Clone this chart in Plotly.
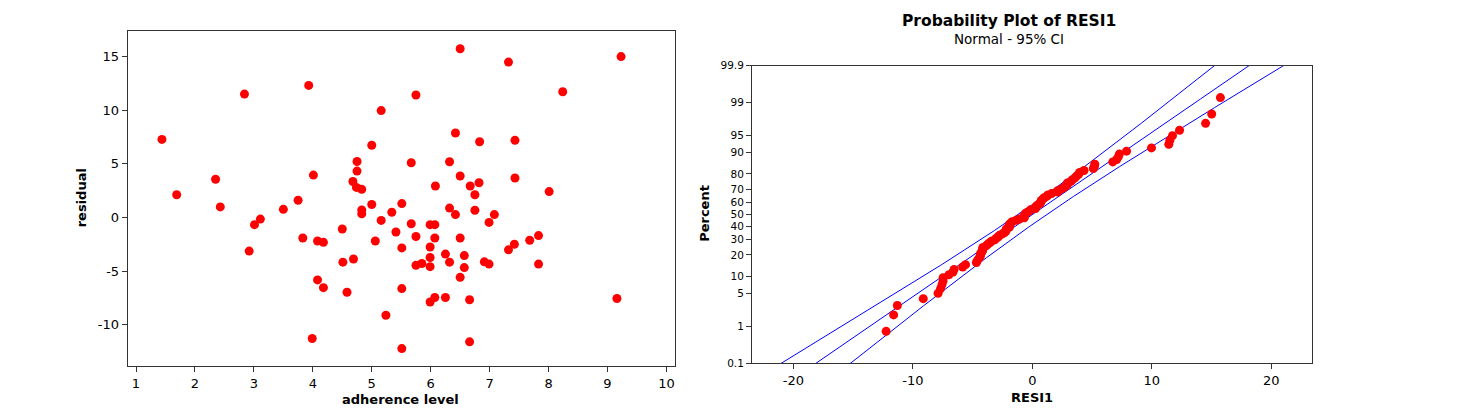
import numpy as np
import plotly.graph_objects as go
from statistics import NormalDist

# ---- data ----
adherence = [1.44, 1.69, 2.35, 2.43, 2.84, 3.01, 3.11, 3.50, 3.75, 3.93,
             4.01, 4.50, 4.68, 4.75, 4.75, 4.74, 4.83, 4.83, 4.83, 5.00,
             5.00, 5.16, 5.16, 5.34, 5.51, 5.67, 5.67, 6.50, 7.32, 9.23,
             5.75, 8.24, 6.42, 6.83, 7.43, 6.32, 6.50, 6.08, 6.67, 6.82,
             6.75, 7.43, 8.01, 6.32, 6.42, 6.75, 7.08, 6.99, 5.99, 6.07,
             2.92, 3.83, 4.08, 4.18, 4.51, 4.69, 4.08, 4.18, 4.58, 3.99,
             5.41, 5.06, 5.51, 5.51, 5.24, 5.51, 5.75, 6.07, 6.50, 5.99,
             7.32, 7.42, 7.68, 7.83, 6.25, 6.57, 5.99, 6.32, 5.75, 5.85,
             5.99, 6.57, 6.91, 6.99, 7.83, 6.50, 5.99, 6.07, 6.25, 6.66,
             9.16, 6.66]
residual = [7.29, 2.12, 3.57, 0.99, 11.52, -0.67, -0.15, 0.76, 1.61, 12.33,
            3.96, -1.08, 3.36, 5.23, 4.33, 2.81, 2.63, 0.70, 0.34, 6.74,
            1.21, 9.98, -0.27, 0.49, 1.30, 5.11, -0.58, 15.75, 14.51, 15.02,
            11.43, 11.74, 7.89, 7.07, 7.20, 5.20, 3.87, 2.94, 2.94, 3.24,
            2.12, 3.69, 2.42, 0.88, 0.27, 0.68, 0.27, -0.46, -0.67, -0.67,
            -3.14, -1.91, -2.20, -2.32, -4.17, -3.87, -5.83, -6.55, -6.98, -11.30,
            -1.36, -2.20, -2.84, -6.64, -9.13, -12.24, -1.78, -1.91, -1.91, -2.75,
            -3.02, -2.50, -2.12, -1.69, -3.42, -3.56, -3.74, -4.17, -4.47, -4.29,
            -4.59, -4.68, -4.14, -4.35, -4.35, -5.59, -7.89, -7.47, -7.47, -7.68,
            -7.56, -11.61]

left_xticks = [1, 2, 3, 4, 5, 6, 7, 8, 9, 10]
left_yticks = [-10, -5, 0, 5, 10, 15]
left_ylabels = ["-10", "-5", "0", "5", "10", "15"]
right_xticks = [-20, -10, 0, 10, 20]
right_xlabels = ["-20", "-10", "0", "10", "20"]
percent_ticks = [0.1, 1, 5, 10, 20, 30, 40, 50, 60, 70, 80, 90, 95, 99, 99.9]
percent_labels = ["0.1", "1", "5", "10", "20", "30", "40", "50", "60", "70",
                  "80", "90", "95", "99", "99.9"]

# ---- normal probability plot computations ----
nd = NormalDist()
n = len(residual)
sorted_res = sorted(residual)
z_pts = [nd.inv_cdf((i + 1 - 0.3) / (n + 0.4)) for i in range(n)]
mu = float(np.mean(residual))
sd = float(np.std(residual, ddof=1))
zz = np.linspace(-3.4, 3.4, 300)
fit = mu + zz * sd
se = sd * np.sqrt((1 + zz ** 2 / 2) / n)
lo = fit - 1.96 * se
hi = fit + 1.96 * se

W, H = 1479, 418
FONT = "Tahoma, DejaVu Sans, sans-serif"
AX = "#333333"

fig = go.Figure()
fig.add_trace(go.Scatter(x=adherence, y=residual, mode="markers",
                         marker=dict(color="#ff0000", size=9, line=dict(width=0)),
                         xaxis="x", yaxis="y", showlegend=False))
for xs in (fit, lo, hi):
    fig.add_trace(go.Scatter(x=xs, y=zz, mode="lines",
                             line=dict(color="#0000ff", width=1),
                             xaxis="x2", yaxis="y2", showlegend=False))
fig.add_trace(go.Scatter(x=sorted_res, y=z_pts, mode="markers",
                         marker=dict(color="#ff0000", size=9, line=dict(width=0)),
                         xaxis="x2", yaxis="y2", showlegend=False))

axis_common = dict(showline=True, mirror=True, linecolor=AX, linewidth=1,
                   ticks="outside", ticklen=5, tickcolor=AX, tickwidth=1,
                   showgrid=False, zeroline=False)
tf_big = dict(family=FONT, size=13, color="#000")
tf_small = dict(family=FONT, size=10.5, color="#000")

fig.update_layout(
    width=W, height=H,
    margin=dict(l=0, r=0, t=0, b=0),
    paper_bgcolor="white", plot_bgcolor="white",
    xaxis=dict(domain=[127.7 / W, 674.7 / W], range=[0.859, 10.14],
               tickvals=left_xticks, anchor="y", tickfont=tf_big, **axis_common),
    yaxis=dict(domain=[1 - 370.7 / H, 1 - 25.3 / H], range=[-13.87, 17.45],
               tickvals=left_yticks, ticktext=left_ylabels, anchor="x",
               tickfont=tf_big, **axis_common),
    xaxis2=dict(domain=[752 / W, 1312 / W], range=[-23.47, 23.42],
                tickvals=right_xticks, ticktext=right_xlabels, anchor="y2",
                tickfont=tf_big, **axis_common),
    yaxis2=dict(domain=[1 - 367.7 / H, 1 - 61.5 / H],
                range=[nd.inv_cdf(0.001), nd.inv_cdf(0.999)],
                tickvals=[nd.inv_cdf(p / 100) for p in percent_ticks],
                ticktext=percent_labels, anchor="x2",
                tickfont=tf_small, **axis_common),
)

def ann(text, x, y, size, bold=False, angle=0):
    fig.add_annotation(text=f"<b>{text}</b>" if bold else text,
                       x=x / W, y=1 - y / H, xref="paper", yref="paper",
                       xanchor="center", yanchor="middle", showarrow=False,
                       textangle=angle,
                       font=dict(family=FONT, size=size, color="#000"))

ann("Probability Plot of RESI1", 1009, 15.5, 15.5, bold=True)
ann("Normal - 95% CI", 1009, 34, 13.5)
ann("residual", 81, 198, 13, bold=True, angle=-90)
ann("adherence level", 400, 405, 13, bold=True)
ann("Percent", 705, 214, 13, bold=True, angle=-90)
ann("RESI1", 1031.7, 403, 13, bold=True)

fig.write_html("out.html")
